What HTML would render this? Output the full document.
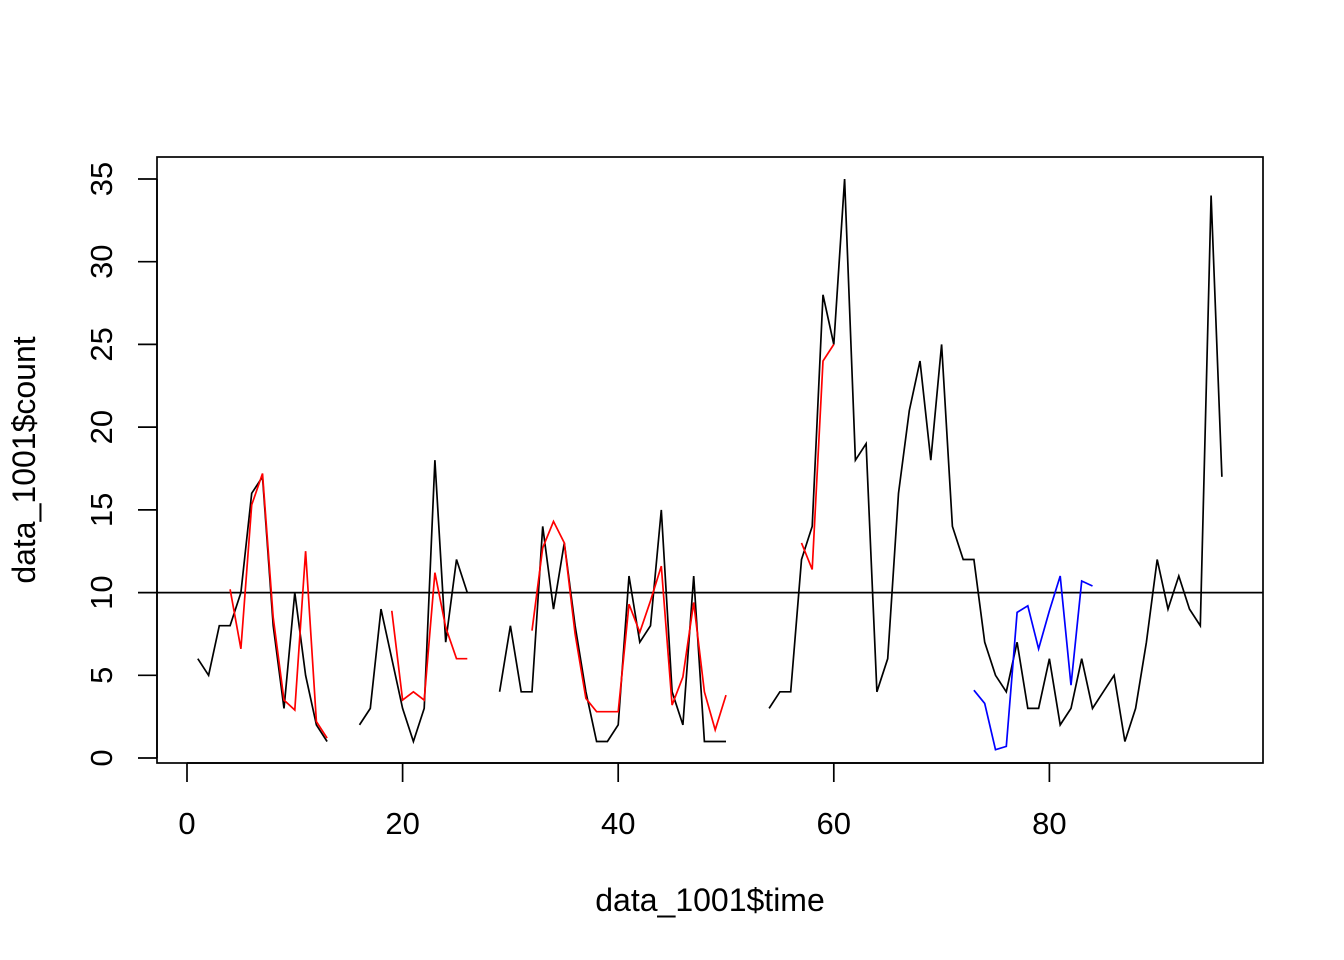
<!DOCTYPE html>
<html><head><meta charset="utf-8"><style>
html,body{margin:0;padding:0;background:#fff;}
svg{display:block;font-family:"Liberation Sans",Arial,sans-serif;}
</style></head><body>
<svg id="s" width="1344" height="960" xmlns="http://www.w3.org/2000/svg">
<rect x="157" y="157" width="1106" height="606" fill="none" stroke="#000" stroke-width="1.7"/>
<line x1="157" y1="592.6" x2="1263" y2="592.6" stroke="#000" stroke-width="1.7"/>
<g stroke="#000" stroke-width="1.7">
<line x1="187" y1="763" x2="1049" y2="763"/>
<line x1="187" y1="763" x2="187" y2="782"/><line x1="402.6" y1="763" x2="402.6" y2="782"/>
<line x1="618.2" y1="763" x2="618.2" y2="782"/><line x1="833.8" y1="763" x2="833.8" y2="782"/>
<line x1="1049.4" y1="763" x2="1049.4" y2="782"/>
<line x1="157" y1="179" x2="157" y2="758"/>
<line x1="157" y1="758" x2="138" y2="758"/><line x1="157" y1="675.3" x2="138" y2="675.3"/>
<line x1="157" y1="592.6" x2="138" y2="592.6"/><line x1="157" y1="509.9" x2="138" y2="509.9"/>
<line x1="157" y1="427.1" x2="138" y2="427.1"/><line x1="157" y1="344.4" x2="138" y2="344.4"/>
<line x1="157" y1="261.7" x2="138" y2="261.7"/><line x1="157" y1="179" x2="138" y2="179"/>
</g>
<g font-size="31" text-anchor="middle" fill="#000">
<text x="187" y="834">0</text><text x="402.6" y="834">20</text><text x="618.2" y="834">40</text>
<text x="833.8" y="834">60</text><text x="1049.4" y="834">80</text>
<text transform="translate(112,758) rotate(-90)">0</text>
<text transform="translate(112,675.3) rotate(-90)">5</text>
<text transform="translate(112,592.6) rotate(-90)">10</text>
<text transform="translate(112,509.9) rotate(-90)">15</text>
<text transform="translate(112,427.1) rotate(-90)">20</text>
<text transform="translate(112,344.4) rotate(-90)">25</text>
<text transform="translate(112,261.7) rotate(-90)">30</text>
<text transform="translate(112,179) rotate(-90)">35</text>
<text x="710" y="911" font-size="32">data_1001$time</text>
<text transform="translate(35,460) rotate(-90)" font-size="32">data_1001$count</text>
</g>
<g id="lines" fill="none" stroke-width="1.7"></g>
</svg>
<script>
function X(t){return 187+10.78*t;}
function Y(v){return 758-16.543*v;}
var black=[6,5,8,8,10,16,17,8,3,10,5,2,1,null,null,2,3,9,6,3,1,3,18,7,12,10,null,null,4,8,4,4,14,9,13,8,4,1,1,2,11,7,8,15,4,2,11,1,1,1,null,null,null,3,4,4,12,14,28,25,35,18,19,4,6,16,21,24,18,25,14,12,12,7,5,4,7,3,3,6,2,3,6,3,4,5,1,3,7,12,9,11,9,8,34,17];
var segs=[];
function add(start,arr,col){var pts=[];for(var i=0;i<arr.length;i++){var v=arr[i];var t=start+i;if(v===null){if(pts.length)segs.push([pts,col]);pts=[];}else pts.push(X(t).toFixed(1)+","+Y(v).toFixed(1));}if(pts.length)segs.push([pts,col]);}
add(1,black,"#000");
add(4,[10.2,6.6,15.3,17.2,8.5,3.5,2.9,12.5,2.2,1.2],"#ff0000");
add(19,[8.9,3.5,4,3.5,11.2,7.9,6,6],"#ff0000");
add(32,[7.7,12.7,14.3,13,7.5,3.6,2.8,2.8,2.8,9.3,7.6,9.5,11.6,3.2,4.9,9.4,4,1.7,3.8],"#ff0000");
add(57,[13,11.4,24,25],"#ff0000");
add(73,[4.1,3.3,0.5,0.7,8.8,9.2,6.6,8.9,11,4.4,10.7,10.4],"#0000ff");
var g=document.getElementById("lines");
segs.forEach(function(s){var p=document.createElementNS("http://www.w3.org/2000/svg","polyline");p.setAttribute("points",s[0].join(" "));p.setAttribute("stroke",s[1]);g.appendChild(p);});
</script>
</body></html>
